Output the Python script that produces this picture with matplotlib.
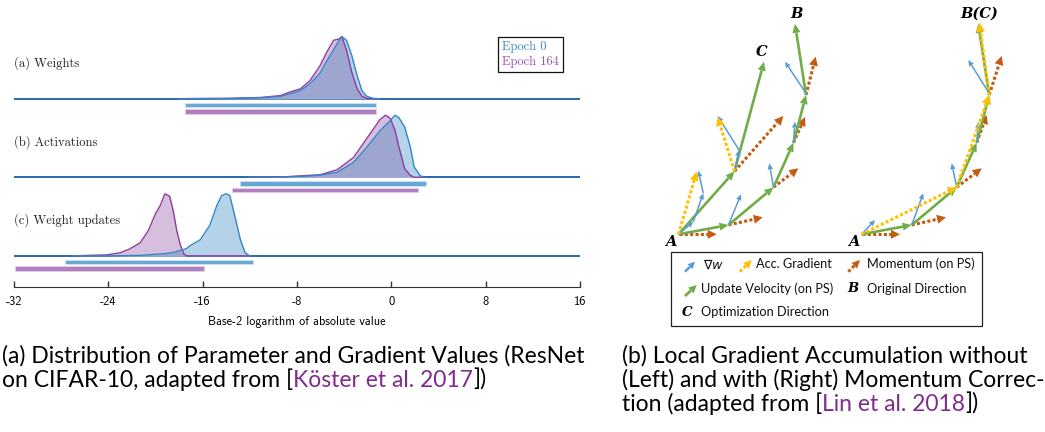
import numpy as np
import matplotlib
matplotlib.use('Agg')
import matplotlib.pyplot as plt
from matplotlib.patches import Polygon, Rectangle
from matplotlib.lines import Line2D

# ---- left panel data ----
row_labels = ['(a) Weights', '(b) Activations', '(c) Weight updates']
epoch_labels = ['Epoch 0', 'Epoch 164']

weights_x = [-18, -14, -11, -9.4, -8.6, -7.7, -6.9, -6.05, -5.5, -4.9, -4.45, -4.2,
             -3.8, -3.36, -2.9, -2.5, -2.1, -1.55, -1.0]
weights_e0 = [0, 0.003, 0.016, 0.037, 0.08, 0.13, 0.24, 0.41, 0.6, 0.79, 0.93, 1.0,
              0.94, 0.70, 0.37, 0.13, 0.04, 0.005, 0]
weights_e164 = [0, 0.004, 0.02, 0.05, 0.107, 0.16, 0.29, 0.53, 0.74, 0.94, 0.96, 1.0,
                0.78, 0.43, 0.16, 0.04, 0.005, 0, 0]

act_x = [-12, -9, -7, -6.05, -4.6, -3.2, -2.1, -0.96, -0.49, -0.1, 0.31, 0.64,
         1.13, 1.61, 1.93, 2.42, 2.74]
act_e0 = [0, 0.005, 0.02, 0.035, 0.08, 0.24, 0.48, 0.75, 0.84, 0.91, 1.0, 0.96,
          0.81, 0.49, 0.17, 0.03, 0]
act_e164 = [0, 0.008, 0.03, 0.04, 0.12, 0.32, 0.62, 0.93, 1.0, 0.95, 0.76, 0.49,
            0.14, 0.03, 0, 0, 0]

upd_x = [-27, -26.1, -24.1, -23.0, -22.2, -21.3, -20.6, -20.0, -19.6, -19.2, -18.8,
         -18.5, -18.2, -17.9, -17.6, -17.35, -17.1, -16.2, -15.4, -14.8, -14.4,
         -14.0, -13.7, -13.26, -12.8, -12.4, -12.0]
upd_e0 = [0, 0, 0, 0.003, 0.005, 0.008, 0.015, 0.025, 0.03, 0.035, 0.045, 0.055,
          0.07, 0.085, 0.1, 0.12, 0.16, 0.26, 0.49, 0.81, 0.97, 1.0, 0.97, 0.63,
          0.26, 0.05, 0]
upd_e164 = [0, 0.005, 0.016, 0.05, 0.11, 0.21, 0.41, 0.68, 0.81, 1.0, 0.96, 0.73,
            0.41, 0.18, 0.03, 0, 0, 0, 0, 0, 0, 0, 0, 0, 0, 0, 0]

range_e0 = [(-17.5, -1.3), (-12.85, 2.9), (-27.65, -11.7)]
range_e164 = [(-17.5, -1.3), (-13.55, 2.25), (-31.9, -15.9)]
xticks = [-32, -24, -16, -8, 0, 8, 16]

# ---- right panel data: arrow segments, origin at point A, y up ----
velocity = [((0, 0), (50, 9.3)), ((50, 9.3), (95, 47)), ((95, 47), (115, 91.6)),
            ((115, 91.6), (127.5, 139.3)), ((127.5, 139.3), (116.5, 210.5))]
velocity_detour = [((0, 0), (56, 63)), ((56, 63), (85.5, 172.6))]
grad_left = [((0, 0), (14.8, 12.6)), ((14.8, 12.6), (24.8, 41)), ((24.8, 41), (19.8, 63.6)),
             ((50, 9.3), (62.5, 40)), ((95, 47), (90.8, 71)), ((115, 91.6), (116.5, 112.6)),
             ((127.5, 141), (106.5, 172.6)), ((56, 63), (60.5, 84.3)),
             ((60.5, 84.3), (39.2, 118.3))]
mom_left = [((0, 0), (38.2, 0)), ((50, 9.3), (84.2, 17)), ((95, 47), (119.8, 66)),
            ((115, 91.6), (126.5, 117.3)), ((127.5, 139.3), (137.2, 177.6)),
            ((56, 63), (104.8, 118.3))]
acc_left = [((0, 0), (18.2, 62.6)), ((56, 63), (39.2, 117.3))]

grad_right = [((0, 0), (13.3, 14.3)), ((50, 9.3), (61.6, 41)), ((95, 47), (90, 71)),
              ((115, 91.6), (116.6, 112.6)), ((127.5, 141), (106.6, 174.3))]
mom_right = [((0, 0), (38.3, 0)), ((50, 9.3), (84.3, 17)), ((95, 47), (120, 66)),
             ((115, 91.6), (125, 119.3)), ((127.5, 139.3), (140, 178.3))]
acc_right = [((0, 0), (95, 47)), ((95, 47), (127.5, 139.3)), ((127.5, 139.3), (117.6, 211.6))]

C_GREEN, C_BLUE, C_YEL, C_ORG = '#70ad47', '#5b9bd5', '#ffc000', '#c55a11'
PURPLE_REF = '#7f2d8c'

fig = plt.figure(figsize=(10.45, 4.32), dpi=100)

# ================= left: ridgeline densities =================
ax = fig.add_axes([14 / 1045, 0.335, 566 / 1045, 0.6185])
ax.set_xlim(-32, 16)
ax.set_ylim(-0.4, 3.0)

blue_line, pink_line = '#3486c9', '#8e3c9e'
blue_fill, pink_fill, mix_fill = '#b4d2e8', '#d6bfdd', '#9ca6d0'
scale = 0.79
series = [(weights_x, weights_e0, weights_e164),
          (act_x, act_e0, act_e164),
          (upd_x, upd_e0, upd_e164)]

for i, (x, e0, e164) in enumerate(series):
    base = 2 - i
    x = np.array(x)
    h0 = base + scale * np.array(e0)
    h1 = base + scale * np.array(e164)
    ax.axhline(base, color='#2c67ad', lw=1.4, zorder=1)
    ax.fill_between(x, base, h0, color=blue_fill, lw=0, zorder=2)
    ax.fill_between(x, base, h1, color=pink_fill, lw=0, zorder=2)
    ax.fill_between(x, base, np.minimum(h0, h1), color=mix_fill, lw=0, zorder=3)
    ax.plot(x, h1, color=pink_line, lw=1.0, zorder=4)
    ax.plot(x, h0, color=blue_line, lw=1.0, zorder=5)
    lo, hi = range_e0[i]
    ax.barh(base - 0.08, hi - lo, left=lo, height=0.06, color='#6ba7d4',
            edgecolor='#d2e5f3', lw=0.5, zorder=3)
    lo, hi = range_e164[i]
    ax.barh(base - 0.162, hi - lo, left=lo, height=0.06, color='#b07fbf',
            edgecolor='#e5d3ea', lw=0.5, zorder=3)
    ax.text(-32, base + 0.45, row_labels[i], family='cmr10', fontsize=9,
            ha='left', va='center', color='#222222')

for s in ['top', 'left', 'right']:
    ax.spines[s].set_visible(False)
ax.spines['bottom'].set_color('#333333')
ax.set_yticks([])
ax.set_xticks(xticks)
ax.set_xticklabels([str(t) for t in xticks], family='cmss10', fontsize=9)
ax.tick_params(axis='x', direction='in', length=4, width=1, color='#333333', pad=6)
ax.set_xlabel('Base-2 logarithm of absolute value', family='cmss10',
              fontsize=8.8, labelpad=6)

handles = [Line2D([], [], lw=0), Line2D([], [], lw=0)]
leg = ax.legend(handles, epoch_labels, loc='upper right',
                bbox_to_anchor=(0.9705, 0.9375), borderaxespad=0,
                handlelength=0, handletextpad=0, labelspacing=0.2,
                borderpad=0.35, fancybox=False, framealpha=1,
                labelcolor=['#3a88c8', '#a04fb0'],
                prop={'family': 'cmr10', 'size': 9})
leg.get_frame().set_edgecolor('#111111')
leg.get_frame().set_linewidth(0.9)

# ================= right: arrow diagram =================
ax2 = fig.add_axes([640 / 1045, 102 / 432, 405 / 1045, 330 / 432])
ax2.set_xlim(-38.5, 366.5)
ax2.set_ylim(-95.7, 234.3)
ax2.axis('off')
shift = 183.2


def arrow(p0, p1, color, lw, head, width, dotted=False, z=2, dx=0.0):
    p0 = np.array(p0, float) + [dx, 0]
    p1 = np.array(p1, float) + [dx, 0]
    d = p1 - p0
    u = d / np.hypot(*d)
    n = np.array([-u[1], u[0]])
    b = p1 - u * head
    ls = (0, (1.0, 0.75)) if dotted else '-'
    ax2.plot([p0[0], b[0]], [p0[1], b[1]], color=color, lw=lw, ls=ls,
             solid_capstyle='butt', dash_capstyle='butt', zorder=z)
    ax2.add_patch(Polygon([p1, b + n * width / 2, b - n * width / 2],
                          closed=True, fc=color, ec='none', zorder=z))


def draw(segs, kind, dx=0.0):
    for p0, p1 in segs:
        if kind == 'v':
            arrow(p0, p1, C_GREEN, 1.9, 9, 8, z=3, dx=dx)
        elif kind == 'g':
            arrow(p0, p1, C_BLUE, 1.1, 6, 5.5, z=4, dx=dx)
        elif kind == 'm':
            arrow(p0, p1, C_ORG, 2.2, 9, 9, dotted=True, z=2, dx=dx)
        else:
            arrow(p0, p1, C_YEL, 2.2, 9, 9, dotted=True, z=5, dx=dx)


draw(mom_left, 'm')
draw(velocity, 'v')
draw(velocity_detour, 'v')
draw(grad_left, 'g')
draw(acc_left, 'a')

draw(mom_right, 'm', shift)
draw(velocity, 'v', shift)
draw(grad_right, 'g', shift)
draw(acc_right, 'a', shift)

lab = dict(family='DejaVu Serif', fontweight='bold', style='italic', fontsize=10.5,
           ha='center', va='center', color='black')
ax2.text(-7.5, -7.4, 'A', **lab)
ax2.text(-7.5 + shift, -7.4, 'A', **lab)
ax2.text(118.2, 220.3, 'B', **lab)
ax2.text(83.2, 182, 'C', **lab)
ax2.text(117.6 + shift, 220.3, 'B(C)', **lab)

# diagram legend
ax2.add_patch(Rectangle((-7.5, -91.7), 311, 74, fc='white', ec='#222222', lw=0.9, zorder=6))
arrow((6.5, -37.4), (16.5, -27.4), C_BLUE, 1.8, 7, 7, z=7)
arrow((61.5, -37.4), (73.2, -25.7), C_YEL, 2.2, 8, 8, dotted=True, z=7)
arrow((169.8, -37.4), (181.5, -25.7), C_ORG, 2.2, 8, 8, dotted=True, z=7)
arrow((6.5, -61.7), (18.2, -50.7), C_GREEN, 2.0, 8, 8, z=7)
lt = dict(family='Lato', fontsize=9.2, ha='left', va='center', color='#111111', zorder=8)
ax2.text(24.8, -29.7, r'$\nabla w$', **lt)
ax2.text(77.5, -29.7, 'Acc. Gradient', **lt)
ax2.text(188.2, -29.7, 'Momentum (on PS)', **lt)
ax2.text(22.5, -54.4, 'Update Velocity (on PS)', **lt)
ax2.text(188.2, -54.4, 'Original Direction', **lt)
ax2.text(22.5, -77.7, 'Optimization Direction', **lt)
lb = dict(lab, fontsize=9.5, zorder=8)
ax2.text(174.5, -54.4, 'B', **lb)
ax2.text(9.0, -77.7, 'C', **lb)

# ================= captions =================
CAP_SIZE = 16.5


def caption_line(x_px, y_px, parts):
    t = fig.text(x_px / 1045, 1 - y_px / 432, parts[0][0], color=parts[0][1],
                 ha='left', va='baseline', family='Lato', fontsize=CAP_SIZE)
    for s, c in parts[1:]:
        t = ax2.annotate(s, xy=(1, 0), xycoords=t, ha='left', va='bottom', color=c,
                         annotation_clip=False, family='Lato', fontsize=CAP_SIZE)


caption_line(2, 363, [('(a) Distribution of Parameter and Gradient Values (ResNet', 'black')])
caption_line(2, 387, [('on CIFAR-10, adapted from [', 'black'),
                      ('Köster et al. 2017', PURPLE_REF), ('])', 'black')])
caption_line(622, 363, [('(b) Local Gradient Accumulation without', 'black')])
caption_line(622, 387, [('(Left) and with (Right) Momentum Correc-', 'black')])
caption_line(622, 411, [('tion (adapted from [', 'black'),
                        ('Lin et al. 2018', PURPLE_REF), ('])', 'black')])

fig.savefig('out.png', dpi=100)
